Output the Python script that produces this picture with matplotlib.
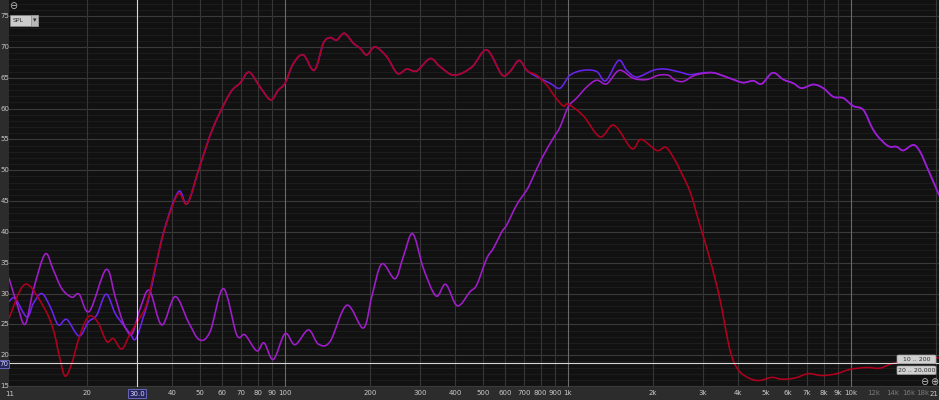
import numpy as np
import matplotlib
matplotlib.use("Agg")
import matplotlib.pyplot as plt
from matplotlib.patches import FancyBboxPatch, Rectangle, PathPatch
from matplotlib.path import Path

# ---------------- data (frequency in Hz, level in dB SPL) ----------------
red_f = [10.58, 12.06, 13.99, 15.18, 15.94, 16.70, 17.64, 18.61, 19.65, 20.58, 21.89, 23.44,
         24.74, 26.49, 28.34, 30.31, 32.45, 35.67, 38.19, 41.98, 45.17, 50.08, 55.79, 63.94,
         69.34, 74.63, 81.56, 89.0, 94.7, 100, 107.0, 116.0, 126.9, 136.6, 144.2, 152.3,
         162.0, 174.3, 184.1, 194.4, 208.0, 228.8, 249.4, 269.2, 292.0, 325.4, 352.9, 395.6,
         456.7, 516.2, 583.2, 623.7, 671.4, 718.2, 775.2, 840.9, 899.7, 962.5, 1002.5, 1133,
         1298, 1454, 1680, 1811, 2058, 2220, 2389, 2487, 2699, 2927, 3176, 3444, 3736, 3998,
         4397, 4769, 5246, 5690, 6341, 7066, 7878, 8904, 9920, 11360, 12660, 14504, 20464]
red_db = [26.0, 31.5, 27.9, 24.1, 19.8, 16.6, 18.7, 22.5, 25.4, 26.4, 25.2, 22.2,
          22.7, 21.0, 23.5, 25.7, 28.4, 36.5, 41.5, 46.2, 44.6, 50.8, 57.0, 62.5,
          64.1, 65.9, 63.5, 61.4, 63.0, 64.1, 67.3, 68.7, 66.2, 70.6, 71.5, 71.1,
          72.2, 70.6, 69.8, 68.7, 70.0, 68.4, 65.7, 66.4, 66.1, 68.1, 66.8, 65.4,
          66.7, 69.5, 65.5, 66.0, 67.8, 66.1, 65.4, 63.8, 61.9, 60.4, 60.7, 58.8,
          55.4, 57.3, 53.5, 55.0, 53.2, 53.7, 51.6, 50.0, 46.5, 41.0, 35.5, 29.0, 20.8, 17.6,
          16.2, 15.9, 16.4, 16.1, 16.3, 17.0, 16.7, 17.0, 17.7, 18.0, 17.9, 18.8, 19.6]

purple_f = [10.58, 11.27, 12.06, 12.90, 14.19, 15.18, 16.25, 17.64, 18.71, 20.34, 23.31, 25.08,
            26.83, 28.73, 30.73, 33.15, 36.67, 40.87, 45.53, 49.8, 54.33, 60.53, 67.5, 72.2,
            79.43, 84.3, 90.9, 100, 108.5, 120.9, 131.1, 144.2, 165.2, 189.1, 202.5, 219.7,
            244.7, 261.8, 282.6, 308.1, 341.7, 369.7, 406.3, 450.5, 475.8, 516.2, 544.5, 583.2,
            607.2, 658.9, 714.8, 744.4, 807.3, 887.5, 937.1, 1002.5, 1073, 1165, 1263, 1370,
            1518, 1701, 1897, 2085, 2262, 2389, 2555, 2773, 3007, 3262, 3538, 3838, 4163, 4516,
            4836, 5288, 5766, 6254, 6696, 7362, 7982, 8659, 9393, 10188, 11053, 11834, 12490,
            13548, 14504, 15302, 16601, 17532, 18760, 20464]
purple_db = [32.5, 28.4, 25.0, 30.6, 36.4, 33.8, 30.8, 29.4, 29.9, 27.1, 33.9, 29.5,
             25.2, 23.4, 27.5, 30.5, 24.9, 29.5, 25.4, 22.5, 23.8, 30.8, 23.3, 23.3,
             20.7, 22.0, 19.3, 23.5, 21.7, 24.1, 21.8, 22.2, 28.1, 24.4, 29.5, 34.8,
             32.4, 36.0, 39.7, 34.1, 29.6, 31.5, 28.0, 30.3, 31.4, 35.7, 37.3, 40.0,
             41.1, 44.4, 46.8, 48.4, 51.9, 55.2, 57.0, 60.3, 61.7, 63.5, 64.6, 64.0,
             66.2, 64.9, 64.7, 65.4, 65.4, 64.6, 64.4, 65.3, 65.7, 65.8, 65.3, 64.7, 64.2, 64.5,
             64.0, 65.8, 64.7, 64.1, 63.3, 63.9, 63.3, 61.9, 61.7, 60.4, 59.8, 57.0, 55.4,
             53.9, 53.8, 53.2, 54.1, 53.0, 50.0, 46.0]

# summed response: own values below 45 Hz and between 0.8 and 3 kHz,
# identical to the woofer in between and to the tweeter above
sum_low_f = [10.58, 11.12, 12.23, 12.90, 13.81, 14.78, 15.81, 16.93, 18.71, 20.18, 21.61,
             23.31, 25.08, 26.83, 28.34, 29.63, 31.57, 33.34, 37.15, 41.98, 45.17]
sum_low_db = [28.7, 29.2, 26.2, 28.4, 30.0, 27.9, 24.9, 25.8, 23.1, 25.4, 26.5,
              29.9, 26.8, 24.9, 23.5, 22.6, 26.2, 30.0, 39.8, 46.5, 44.6]
sum_mid_f = [796, 864, 937, 1016, 1133, 1263, 1359, 1508, 1612, 1749, 2002, 2202, 2487, 2699, 3007]
sum_mid_db = [64.9, 64.1, 63.3, 65.4, 66.2, 66.0, 64.5, 67.8, 66.2, 65.1, 66.2, 66.4, 65.9, 65.5, 65.8]

x_ticks = [20, 40, 50, 60, 70, 80, 90, 100, 200, 300, 400, 500, 600, 700, 800, 900,
           1000, 2000, 3000, 4000, 5000, 6000, 7000, 8000, 9000, 10000, 12000, 14000, 16000, 18000]
x_labels = ["20", "40", "50", "60", "70", "80", "90", "100", "200", "300", "400", "500", "600",
            "700", "800", "900", "1k", "2k", "3k", "4k", "5k", "6k", "7k", "8k", "9k", "10k",
            "12k", "14k", "16k", "18k"]
y_ticks = [75, 70, 65, 60, 55, 50, 45, 40, 35, 30, 25, 20, 15]
cursor_f = 30.0
cursor_db = 18.7

# ---------------- build series ----------------
rf, rd = np.array(red_f), np.array(red_db)
pf, pd_ = np.array(purple_f), np.array(purple_db)
m1 = (rf > 45.5) & (rf < 720)
m2 = pf > 3100
sum_f = np.concatenate([sum_low_f, rf[m1], sum_mid_f, pf[m2]])
sum_db = np.concatenate([sum_low_db, rd[m1], sum_mid_db, pd_[m2]])


def smooth_path(f, db):
    """Smooth (Catmull-Rom style Bezier) rendering of the polyline through the data."""
    x = np.log10(np.asarray(f, float))
    y = np.asarray(db, float)
    n = len(x)
    verts = [(f[0], y[0])]
    codes = [Path.MOVETO]
    for i in range(n - 1):
        x0, y0 = (x[i - 1], y[i - 1]) if i > 0 else (x[i], y[i])
        x3, y3 = (x[i + 2], y[i + 2]) if i + 2 < n else (x[i + 1], y[i + 1])
        c1 = (x[i] + (x[i + 1] - x0) / 6, y[i] + (y[i + 1] - y0) / 6)
        c2 = (x[i + 1] - (x3 - x[i]) / 6, y[i + 1] - (y3 - y[i]) / 6)
        verts += [(10 ** c1[0], c1[1]), (10 ** c2[0], c2[1]), (10 ** x[i + 1], y[i + 1])]
        codes += [Path.CURVE4] * 3
    return Path(verts, codes)


# ---------------- figure ----------------
W, H = 939, 400
fig = plt.figure(figsize=(W / 100, H / 100), dpi=100, facecolor="#2c2c2c")
ax = fig.add_axes([9 / W, 13 / H, 930 / W, 387 / H])
ax.set_facecolor("#111111")
ax.set_xscale("log")
ax.set_xlim(10.58, 20464)
ax.set_ylim(14.84, 77.6)
for s in ax.spines.values():
    s.set_visible(False)

# grid
for v in range(15, 78):
    if v % 5:
        ax.axhline(v, color="#1d1d1d", lw=0.7, zorder=0)
for v in range(15, 78, 5):
    ax.axhline(v, color="#3a3a3a", lw=0.8, zorder=0.5)
for dec in [10, 100, 1000, 10000]:
    for m in range(2, 10):
        fv = dec * m
        if fv < 20464:
            ax.axvline(fv, color="#363636", lw=0.8, zorder=0.5)
for fv in [100, 1000, 10000]:
    ax.axvline(fv, color="#6a6a6a", lw=0.8, zorder=0.6)

# curves
for (ff, dd, col, z) in [(sum_f, sum_db, "#6a22ee", 3), (pf, pd_, "#a21ccc", 4), (rf, rd, "#b0001e", 5)]:
    ax.add_patch(PathPatch(smooth_path(ff, dd), fill=False, ec=col, lw=1.15, zorder=z,
                           joinstyle="round", capstyle="round"))

# cursor lines
ax.axvline(cursor_f, color="#d8d8d8", lw=0.8, zorder=6)
ax.axhline(cursor_db, color="#d8d8d8", lw=0.8, zorder=6)

# ticks
ax.set_xticks(x_ticks)
ax.set_xticklabels(x_labels)
ax.xaxis.set_minor_locator(matplotlib.ticker.NullLocator())
ax.tick_params(axis="x", length=0, pad=2.5, labelsize=5, colors="#c8c8c8")
for lab, t in zip(ax.get_xticklabels(), x_ticks):
    if t > 10000:
        lab.set_color("#7a7a7a")
ax.set_yticks([])


def fx(x):
    return x / W


def fy(y):
    return 1 - y / H


txt = dict(fontsize=5, color="#c8c8c8", va="center")
for v in y_ticks:
    ypix = 16 + (75 - v) * 6.167
    fig.text(fx(0.3), fy(ypix), str(v), ha="left", **txt)
fig.text(fx(9.5), fy(393.5), "11", ha="center", **txt)
fig.text(fx(938.5), fy(393.5), "21", ha="right", **txt)

# cursor value boxes
fig.text(fx(137), fy(393.5), "30.0", ha="center", fontsize=5, color="#d8d8ff", va="center",
         bbox=dict(boxstyle="square,pad=0.15", fc="#26265a", ec="#7070d0", lw=0.6))
fig.text(fx(3.5), fy(364), "70", ha="center", fontsize=5, color="#d8d8ff", va="center",
         bbox=dict(boxstyle="square,pad=0.1", fc="#26265a", ec="#7070d0", lw=0.6))

# top-left controls
fig.text(fx(13), fy(6), "\u2296", ha="center", va="center", fontsize=7, color="#bdbdbd")
fig.add_artist(Rectangle((fx(10), fy(26)), fx(28), 11 / H, transform=fig.transFigure,
                         fc="#cdcdcd", ec="#8a8a8a", lw=0.5, zorder=10))
fig.add_artist(Rectangle((fx(31), fy(26)), fx(7), 11 / H, transform=fig.transFigure,
                         fc="#b8b8b8", ec="#8a8a8a", lw=0.5, zorder=11))
fig.text(fx(13), fy(20.5), "SPL", ha="left", va="center", fontsize=4.5, color="#303030", zorder=12)
fig.text(fx(34.5), fy(20.5), "\u25be", ha="center", va="center", fontsize=5, color="#303030", zorder=12)

# bottom-right controls
for (y0, label) in [(355, "10 .. 200"), (366, "20 .. 20,000")]:
    fig.add_artist(FancyBboxPatch((fx(897), fy(y0 + 8.5)), fx(39), 8.5 / H,
                                  boxstyle="round,pad=0,rounding_size=0.002",
                                  transform=fig.transFigure, fc="#d0d0d0", ec="#9a9a9a",
                                  lw=0.5, zorder=10))
    fig.text(fx(916.5), fy(y0 + 4.3), label, ha="center", va="center", fontsize=4.5,
             color="#303030", zorder=12)
fig.text(fx(924), fy(382), "\u2296", ha="center", va="center", fontsize=7, color="#bdbdbd")
fig.text(fx(934), fy(382), "\u2295", ha="center", va="center", fontsize=7, color="#bdbdbd")

fig.savefig("out.png", dpi=100, facecolor=fig.get_facecolor())
